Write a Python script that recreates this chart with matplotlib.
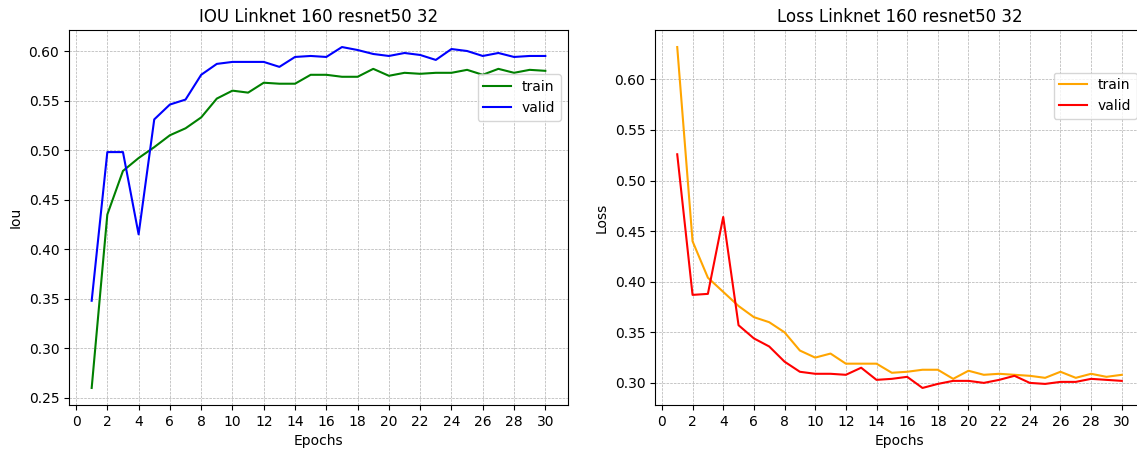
import matplotlib
matplotlib.use("Agg")
import matplotlib.pyplot as plt

epochs = list(range(1, 31))
iou_train = [0.260, 0.435, 0.479, 0.492, 0.503, 0.515, 0.522, 0.533, 0.552, 0.560,
             0.558, 0.568, 0.567, 0.567, 0.576, 0.576, 0.574, 0.574, 0.582, 0.575,
             0.578, 0.577, 0.578, 0.578, 0.581, 0.576, 0.582, 0.578, 0.581, 0.580]
iou_valid = [0.348, 0.498, 0.498, 0.415, 0.531, 0.546, 0.551, 0.576, 0.587, 0.589,
             0.589, 0.589, 0.584, 0.594, 0.595, 0.594, 0.604, 0.601, 0.597, 0.595,
             0.598, 0.596, 0.591, 0.602, 0.600, 0.595, 0.598, 0.594, 0.595, 0.595]
loss_train = [0.632, 0.440, 0.404, 0.390, 0.376, 0.365, 0.360, 0.350, 0.332, 0.325,
              0.329, 0.319, 0.319, 0.319, 0.310, 0.311, 0.313, 0.313, 0.304, 0.312,
              0.308, 0.309, 0.308, 0.307, 0.305, 0.311, 0.305, 0.309, 0.306, 0.308]
loss_valid = [0.526, 0.387, 0.388, 0.464, 0.357, 0.344, 0.336, 0.321, 0.311, 0.309,
              0.309, 0.308, 0.315, 0.303, 0.304, 0.306, 0.295, 0.299, 0.302, 0.302,
              0.300, 0.303, 0.307, 0.300, 0.299, 0.301, 0.301, 0.304, 0.303, 0.302]

fig = plt.figure(figsize=(11.37, 4.53), dpi=100)
W, H = 1137, 453
ax1 = fig.add_axes([69 / W, 1 - 405 / H, 499 / W, 375 / H])
ax2 = fig.add_axes([655 / W, 1 - 405 / H, 489 / W, 375 / H])

ax1.plot(epochs, iou_train, color="green", label="train", lw=1.5)
ax1.plot(epochs, iou_valid, color="blue", label="valid", lw=1.5)
ax1.set_title("IOU Linknet 160 resnet50 32", fontsize=12)
ax1.set_xlabel("Epochs")
ax1.set_ylabel("Iou")

ax2.plot(epochs, loss_train, color="orange", label="train", lw=1.5)
ax2.plot(epochs, loss_valid, color="red", label="valid", lw=1.5)
ax2.set_title("Loss Linknet 160 resnet50 32", fontsize=12)
ax2.set_xlabel("Epochs")
ax2.set_ylabel("Loss")

for ax in (ax1, ax2):
    ax.set_xticks(range(0, 31, 2))
    ax.grid(True, linestyle="--", linewidth=0.5, color="#b0b0b0")
    ax.legend(loc="upper right", bbox_to_anchor=(1, 0.90 if ax is ax1 else 0.905))

fig.savefig("out.png", dpi=100)
